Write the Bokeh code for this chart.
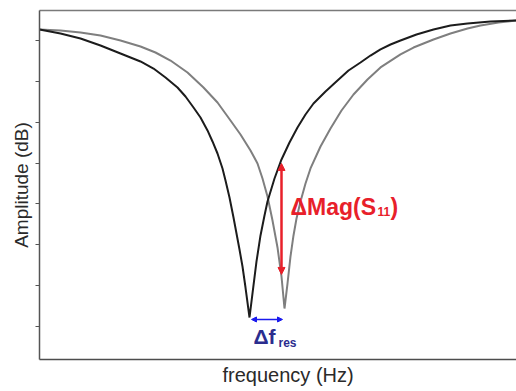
from bokeh.plotting import figure
from bokeh.models import (Range1d, LinearAxis, FixedTicker, Arrow, NormalHead, Label,
                          Title, CustomJSTickFormatter)
from bokeh.embed import file_html
from bokeh.resources import INLINE

# frequency (arbitrary units across the frame) and amplitude (dB)
freq_black = [0, 2.1, 4.1, 6.1, 8.1, 10.1, 11.4, 12.6, 13.8, 14.6, 15.4, 16.1, 16.8, 17.3,
              17.8, 18.3, 18.6, 19.0, 19.4, 19.7, 20.0, 20.3, 20.6, 21.0,
              21.3, 21.7, 22.1, 22.5, 22.8, 23.5, 24.2, 25.0, 25.8, 26.6, 27.4, 28.6, 29.8,
              30.9, 32.1, 33.1, 34.1, 35.1, 36.1, 37.7, 39.4, 41.1, 42.8, 45.1, 47.7]
amp_black = [-3.65, -4.14, -4.76, -5.61, -6.59, -7.57, -8.43, -9.53, -10.75, -11.85, -13.20,
             -14.42, -16.01, -17.36, -18.83, -20.66, -22.13, -24.21, -26.66, -28.62, -30.58,
             -32.66, -35.23, -38.90,
             -35.96, -32.04, -28.86, -26.41, -24.70, -21.89, -19.56, -17.48, -15.65, -14.06,
             -12.71, -11.24, -9.89, -8.67, -7.69, -6.84, -6.10, -5.49, -5.00, -4.27, -3.65,
             -3.16, -2.92, -2.67, -2.55]

freq_gray = [0, 2.1, 4.1, 6.1, 8.1, 10.1, 11.6, 13.1, 14.8, 16.4, 17.8, 19.1, 20.1, 21.1,
             21.8, 22.3, 22.8, 23.3, 23.8, 24.2, 24.5,
             24.8, 25.1, 25.4, 25.7, 26.1, 26.6, 27.1, 28.1, 29.1, 30.2, 31.4, 32.8, 34.1,
             36.1, 37.4, 39.4, 41.1, 42.8, 44.1, 45.9, 47.7]
amp_gray = [-3.65, -3.78, -4.02, -4.39, -5.00, -5.73, -6.47, -7.45, -8.92, -10.75, -12.59,
            -14.79, -16.50, -18.46, -20.05, -21.89, -24.09, -27.03, -30.33, -33.88, -37.80,
            -34.74, -31.43, -28.86, -26.78, -24.70, -22.50, -20.66, -17.97, -15.77, -13.57,
            -11.61, -9.77, -8.30, -6.71, -5.86, -4.88, -4.14, -3.53, -3.16, -2.80, -2.55]

y_ticks = [-40, -35, -30, -25, -20, -15, -10, -5]

# annotation values
dmag_x = 24.2
dmag_top = -20.05
dmag_bottom = -33.63
dfres_y = -39.14
dfres_left = 21.2
dfres_right = 24.3

p = figure(width=516, height=391, x_range=Range1d(0, 47.7), y_range=Range1d(-44.04, -1.33),
           output_backend="svg", toolbar_location=None,
           x_axis_location=None, y_axis_location=None,
           min_border_left=39, min_border_right=0, min_border_top=10, min_border_bottom=32)
p.outline_line_color = None
p.grid.grid_line_color = None
p.background_fill_color = "white"
p.border_fill_color = "white"

font = "Liberation Sans"
blank = CustomJSTickFormatter(code="return ''")

yaxis = LinearAxis(ticker=FixedTicker(ticks=y_ticks), formatter=blank,
                   major_label_standoff=0, major_tick_out=4, major_tick_in=0,
                   minor_tick_out=0, minor_tick_in=0,
                   axis_line_color="#555555", axis_line_width=1.5,
                   major_tick_line_color="#555555", major_tick_line_width=1,
                   axis_label="Amplitude (dB)", axis_label_standoff=4,
                   axis_label_text_font=font, axis_label_text_font_size="19px",
                   axis_label_text_font_style="normal", axis_label_text_color="#2a2a2a")
p.add_layout(yaxis, "left")

for loc, col in (("below", "#4d4d4d"), ("above", "#7a7a7a")):
    ax = LinearAxis(ticker=FixedTicker(ticks=[]), formatter=blank,
                    major_label_standoff=0, major_tick_out=0, major_tick_in=0,
                    minor_tick_out=0, minor_tick_in=0,
                    axis_line_color=col, axis_line_width=1.5)
    p.add_layout(ax, loc)

p.add_layout(Title(text="frequency (Hz)", align="left", offset=183, standoff=4,
                   text_font=font, text_font_size="20px", text_font_style="normal",
                   text_color="#2a2a2a"), "below")

p.line(freq_gray, amp_gray, line_color="#7f7f7f", line_width=2)
p.line(freq_black, amp_black, line_color="#1c1c1c", line_width=2)

red = "#e8202a"
p.add_layout(Arrow(start=NormalHead(size=7, fill_color=red, line_color=red),
                   end=NormalHead(size=7, fill_color=red, line_color=red),
                   x_start=dmag_x, y_start=dmag_top, x_end=dmag_x, y_end=dmag_bottom,
                   line_color=red, line_width=2.5))

blue = "#1a1aee"
p.add_layout(Arrow(start=NormalHead(size=5, fill_color=blue, line_color=blue),
                   end=NormalHead(size=5, fill_color=blue, line_color=blue),
                   x_start=dfres_left, y_start=dfres_y, x_end=dfres_right, y_end=dfres_y,
                   line_color=blue, line_width=1.5))

p.add_layout(Label(x=dmag_x, y=dmag_top, x_offset=9, y_offset=-44, text="ΔMag(S",
                   text_font=font, text_font_style="bold", text_font_size="23px",
                   text_color=red, text_align="left", text_baseline="alphabetic"))
p.add_layout(Label(x=dmag_x, y=dmag_top, x_offset=96, y_offset=-48, text="11",
                   text_font=font, text_font_style="bold", text_font_size="12px",
                   text_color=red, text_align="left", text_baseline="alphabetic"))
p.add_layout(Label(x=dmag_x, y=dmag_top, x_offset=109, y_offset=-44, text=")",
                   text_font=font, text_font_style="bold", text_font_size="23px",
                   text_color=red, text_align="left", text_baseline="alphabetic"))

navy = "#2b2d8e"
p.add_layout(Label(x=dfres_left, y=dfres_y, x_offset=2, y_offset=-17, text="Δf",
                   text_font=font, text_font_style="bold", text_font_size="21px",
                   text_color=navy, text_align="left", text_baseline="alphabetic"))
p.add_layout(Label(x=dfres_left, y=dfres_y, x_offset=27, y_offset=-24, text="res",
                   text_font=font, text_font_style="bold", text_font_size="12px",
                   text_color=navy, text_align="left", text_baseline="alphabetic"))

open("out.html", "w").write(file_html(p, INLINE))
